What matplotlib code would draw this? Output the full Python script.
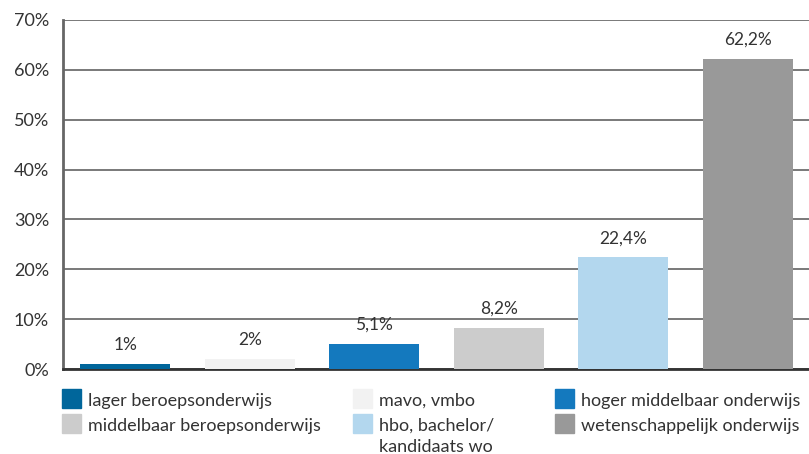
import matplotlib.pyplot as plt
from matplotlib.patches import Rectangle

# opleidingsniveau en aandeel (%)
categories = ['lager beroepsonderwijs', 'mavo, vmbo', 'hoger middelbaar onderwijs',
              'middelbaar beroepsonderwijs', 'hbo, bachelor/\nkandidaats wo',
              'wetenschappelijk onderwijs']
values = [1.0, 2.0, 5.1, 8.2, 22.4, 62.2]
value_labels = ['1%', '2%', '5,1%', '8,2%', '22,4%', '62,2%']
colors = ['#00669b', '#f2f2f2', '#1479be', '#cccccc', '#b3d7ee', '#999999']
yticks = [0, 10, 20, 30, 40, 50, 60, 70]

plt.rcParams['font.family'] = ['Lato', 'DejaVu Sans']
plt.rcParams['font.size'] = 13

fig = plt.figure(figsize=(8.09, 4.54), dpi=100)
ax = fig.add_axes([63 / 809, 1 - 369 / 454, 747 / 809, 349 / 454])

x = list(range(len(values)))
ax.bar(x, values, width=0.72, color=colors, zorder=3)
for xi, v, lab in zip(x, values, value_labels):
    ax.annotate(lab, (xi, v), xytext=(0, 8), textcoords='offset points',
                ha='center', va='bottom', color='#333333', fontsize=12.5)

ax.set_xlim(-0.5, 5.5)
ax.set_ylim(0, 70)
ax.set_yticks(yticks)
ax.set_yticklabels([f'{t}%' for t in yticks], color='#333333')
ax.set_xticks([])
ax.tick_params(axis='y', length=0, pad=10)
ax.yaxis.grid(True, color='#555555', linewidth=1.1)
ax.set_axisbelow(True)
for side in ['right', 'top']:
    ax.spines[side].set_visible(False)
ax.spines['left'].set_color('#666666')
ax.spines['left'].set_linewidth(2)
ax.spines['bottom'].set_color('#333333')
ax.spines['bottom'].set_linewidth(2)

# legenda in drie kolommen, rij voor rij
legend_pos = [(62, 389), (353, 389), (555, 389),
              (62, 414), (353, 414), (555, 414)]
for (px, py), lab, col in zip(legend_pos, categories, colors):
    fig.patches.append(Rectangle((px / 809, 1 - (py + 19) / 454), 19 / 809, 19 / 454,
                                 transform=fig.transFigure, color=col))
    # elke regel apart, zodat de eerste regel naast het vlakje staat
    for k, line in enumerate(lab.split('\n')):
        fig.text((px + 26) / 809, 1 - (py + 17 + 21 * k) / 454, line,
                 ha='left', va='baseline', color='#333333', fontsize=13)

fig.savefig('out.png', dpi=100)
